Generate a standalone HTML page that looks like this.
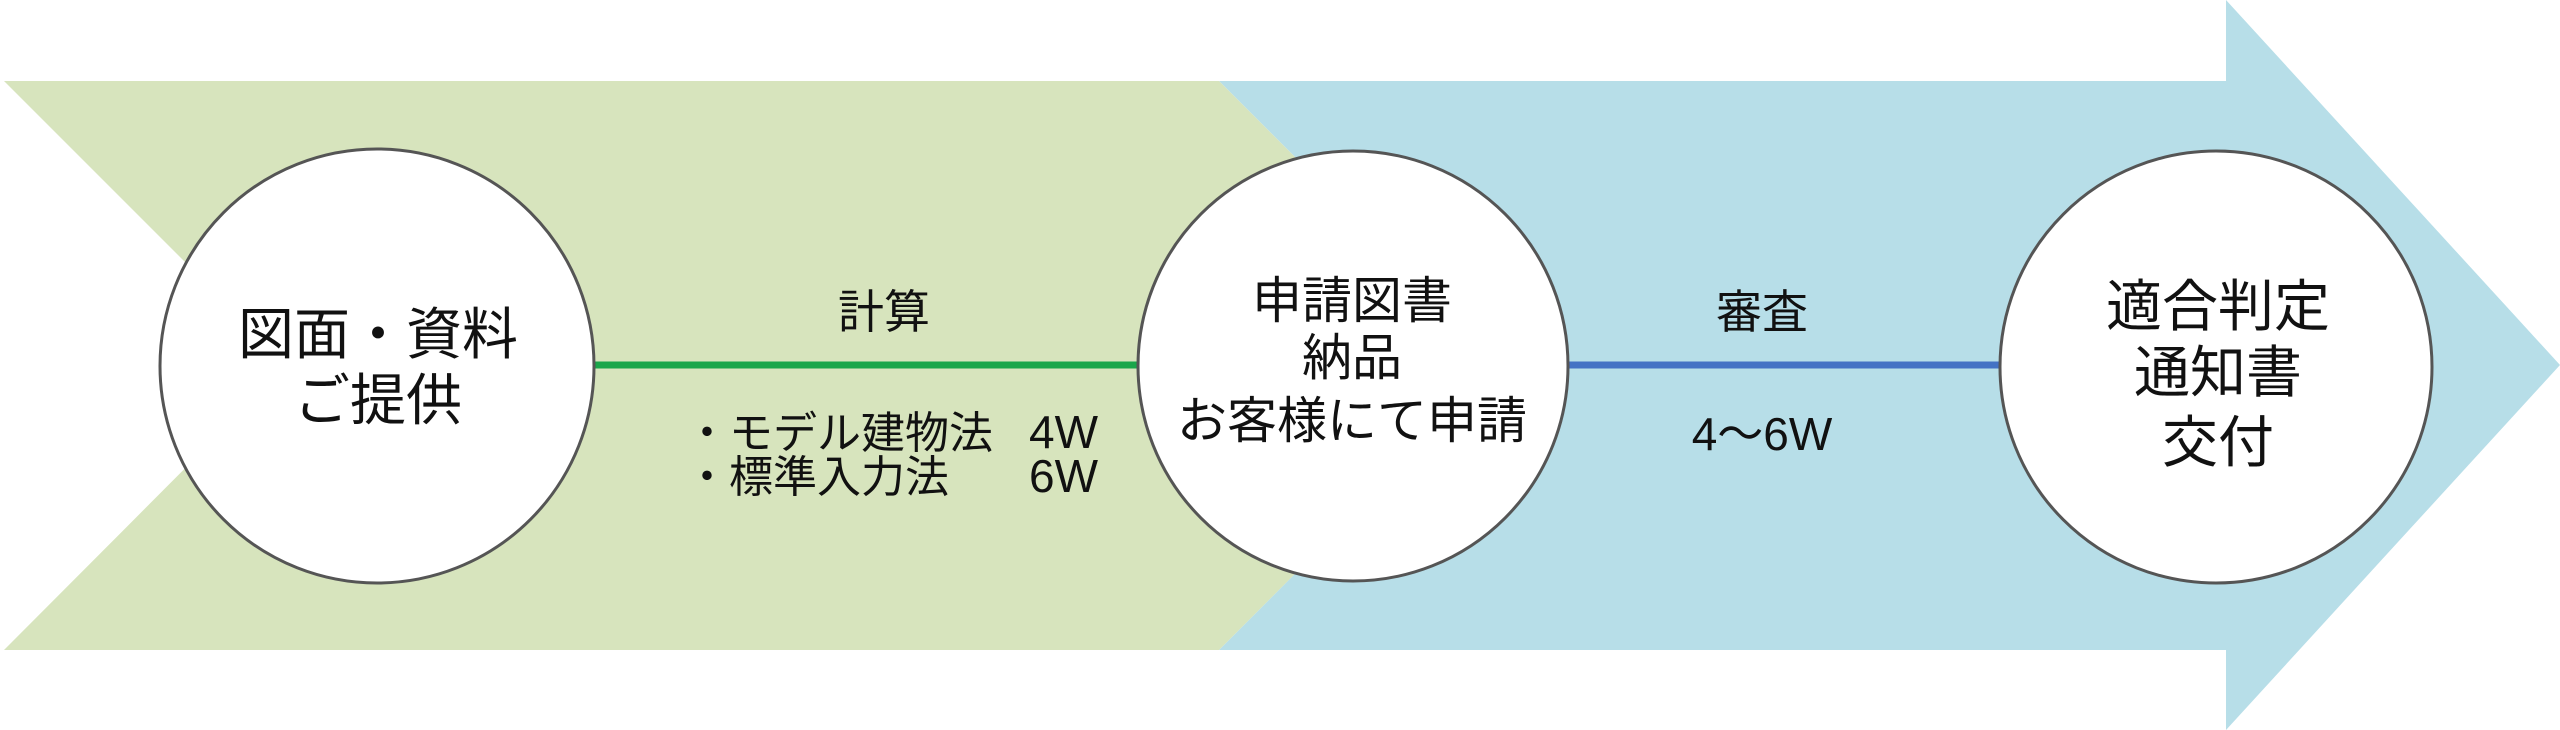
<!DOCTYPE html>
<html><head><meta charset="utf-8"><style>
html,body{margin:0;padding:0;background:#fff;}
svg{display:block;}
text{font-family:"Liberation Sans","Noto Sans CJK JP",sans-serif;fill:#111;}
</style></head><body>
<svg width="2560" height="730" viewBox="0 0 2560 730" xmlns="http://www.w3.org/2000/svg">
<rect width="2560" height="730" fill="#fff"/>
<polygon points="1219,81 2226,81 2226,0 2560,365 2226,730 2226,650 1219,650 1503,365" fill="#b7dee8"/>
<polygon points="4,81 1219,81 1503,365 1219,650 4,650 288,365" fill="#d7e4bd"/>
<line x1="594" y1="365" x2="1140" y2="365" stroke="#1aa64a" stroke-width="7"/>
<line x1="1567" y1="365" x2="2000" y2="365" stroke="#4472c4" stroke-width="7"/>
<circle cx="377" cy="366" r="217" fill="#fff" stroke="#555" stroke-width="3"/>
<circle cx="1353" cy="366" r="215" fill="#fff" stroke="#555" stroke-width="3"/>
<circle cx="2216" cy="367" r="216" fill="#fff" stroke="#555" stroke-width="3"/>
<g font-size="56" text-anchor="middle">
<text x="378" y="354">図面・資料</text>
<text x="378" y="420">ご提供</text>
</g>
<text x="884" y="328" font-size="46" text-anchor="middle">計算</text>
<g font-size="44">
<text x="685" y="448">・モデル建物法</text>
<text x="685" y="492">・標準入力法</text>
</g>
<g font-size="46" text-anchor="end">
<text x="1098" y="448">4W</text>
<text x="1098" y="492">6W</text>
</g>
<g font-size="50" text-anchor="middle">
<text x="1352" y="318">申請図書</text>
<text x="1352" y="375">納品</text>
<text x="1352" y="438">お客様にて申請</text>
</g>
<text x="1762" y="328" font-size="46" text-anchor="middle">審査</text>
<text x="1762" y="450" font-size="46" text-anchor="middle">4〜6W</text>
<g font-size="56" text-anchor="middle">
<text x="2218" y="326">適合判定</text>
<text x="2218" y="392">通知書</text>
<text x="2218" y="462">交付</text>
</g>
</svg>
</body></html>
